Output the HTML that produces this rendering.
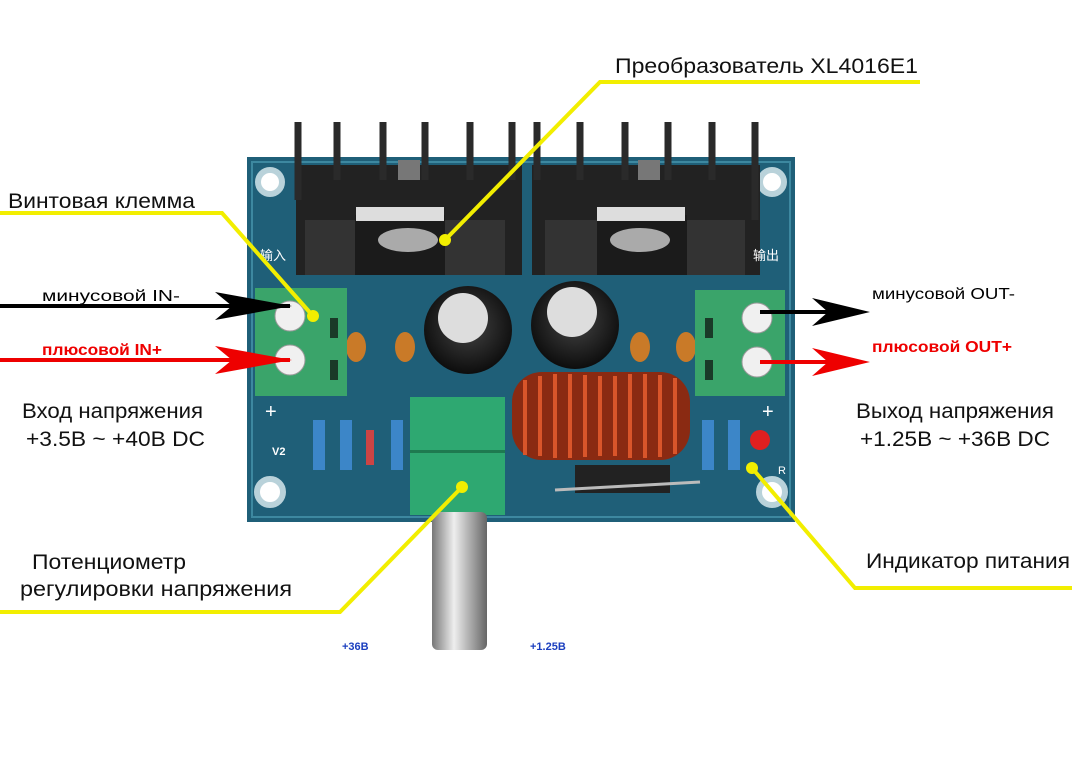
<!DOCTYPE html>
<html><head><meta charset="utf-8"><style>
html,body{margin:0;padding:0;background:#fff;width:1072px;height:766px;overflow:hidden}
svg{display:block}
text{font-family:"Liberation Sans",sans-serif}
</style></head><body>
<svg width="1072" height="766" viewBox="0 0 1072 766" xmlns="http://www.w3.org/2000/svg">
<defs>
<radialGradient id="cap" cx="50%" cy="45%" r="55%"><stop offset="0" stop-color="#444"/><stop offset="1" stop-color="#0d0d0d"/></radialGradient>
<linearGradient id="shaft" x1="0" x2="1"><stop offset="0" stop-color="#777"/><stop offset=".4" stop-color="#eee"/><stop offset="1" stop-color="#666"/></linearGradient>
</defs>
<rect x="247" y="157" width="548" height="365" fill="#1f5f78"/>
<rect x="252" y="162" width="538" height="355" fill="none" stroke="#3d88a0" stroke-width="2"/>
<g fill="#fff" stroke="#b9d2da" stroke-width="6">
<circle cx="270" cy="182" r="12"/><circle cx="772" cy="182" r="12"/>
<circle cx="270" cy="492" r="13"/><circle cx="772" cy="492" r="13"/>
</g>
<g fill="#222">
<rect x="296" y="165" width="226" height="110"/>
<rect x="532" y="165" width="228" height="110"/>
</g>
<g stroke="#2a2a2a" stroke-width="7">
<line x1="298" y1="122" x2="298" y2="200"/><line x1="337" y1="122" x2="337" y2="180"/><line x1="383" y1="122" x2="383" y2="180"/><line x1="425" y1="122" x2="425" y2="180"/><line x1="470" y1="122" x2="470" y2="180"/><line x1="512" y1="122" x2="512" y2="180"/>
<line x1="537" y1="122" x2="537" y2="180"/><line x1="580" y1="122" x2="580" y2="180"/><line x1="625" y1="122" x2="625" y2="180"/><line x1="668" y1="122" x2="668" y2="180"/><line x1="712" y1="122" x2="712" y2="180"/><line x1="755" y1="122" x2="755" y2="220"/>
</g>
<rect x="305" y="220" width="200" height="55" fill="#333"/>
<rect x="545" y="220" width="200" height="55" fill="#333"/>
<rect x="355" y="215" width="90" height="60" fill="#1b1b1b"/>
<rect x="597" y="215" width="90" height="60" fill="#1b1b1b"/>
<rect x="356" y="207" width="88" height="14" fill="#ddd"/>
<rect x="597" y="207" width="88" height="14" fill="#ddd"/>
<ellipse cx="408" cy="240" rx="30" ry="12" fill="#aaa"/>
<ellipse cx="640" cy="240" rx="30" ry="12" fill="#aaa"/>
<rect x="398" y="160" width="22" height="20" fill="#777"/>
<rect x="638" y="160" width="22" height="20" fill="#777"/>
<text x="260" y="260" font-size="13" fill="#fff" style="font-family:'Noto Sans CJK SC',sans-serif">输入</text>
<text x="753" y="260" font-size="13" fill="#fff" style="font-family:'Noto Sans CJK SC',sans-serif">输出</text>
<circle cx="468" cy="330" r="44" fill="url(#cap)"/>
<circle cx="575" cy="325" r="44" fill="url(#cap)"/>
<circle cx="463" cy="318" r="25" fill="#ddd"/>
<circle cx="572" cy="312" r="25" fill="#ddd"/>
<g fill="#c97a28">
<ellipse cx="356" cy="347" rx="10" ry="15"/><ellipse cx="405" cy="347" rx="10" ry="15"/>
<ellipse cx="640" cy="347" rx="10" ry="15"/><ellipse cx="686" cy="347" rx="10" ry="15"/>
</g>
<rect x="255" y="288" width="92" height="108" fill="#3aa46a"/>
<rect x="695" y="290" width="90" height="106" fill="#3aa46a"/>
<g fill="#f0f0f0" stroke="#999">
<circle cx="290" cy="316" r="15"/><circle cx="290" cy="360" r="15"/>
<circle cx="757" cy="318" r="15"/><circle cx="757" cy="362" r="15"/>
</g>
<rect x="330" y="318" width="8" height="20" fill="#1a3a28"/><rect x="330" y="360" width="8" height="20" fill="#1a3a28"/>
<rect x="705" y="318" width="8" height="20" fill="#1a3a28"/><rect x="705" y="360" width="8" height="20" fill="#1a3a28"/>
<text x="265" y="418" font-size="20" fill="#fff">+</text>
<text x="762" y="418" font-size="20" fill="#fff">+</text>
<text x="272" y="455" font-size="11" fill="#fff" font-weight="bold">V2</text>
<rect x="512" y="372" width="178" height="88" rx="30" fill="#8a2a12"/>
<g stroke="#d9552a" stroke-width="4" fill="none">
<path d="M525 380v75M540 376v80M555 374v84M570 374v84M585 375v82M600 376v80M615 376v80M630 374v84M645 374v84M660 375v82M675 378v76"/>
</g>
<rect x="575" y="465" width="95" height="28" fill="#222"/>
<line x1="555" y1="490" x2="700" y2="482" stroke="#bbb" stroke-width="3"/>
<g fill="#3c86c8">
<rect x="313" y="420" width="12" height="50"/><rect x="340" y="420" width="12" height="50"/><rect x="391" y="420" width="12" height="50"/>
<rect x="702" y="420" width="12" height="50"/><rect x="728" y="420" width="12" height="50"/>
</g>
<rect x="366" y="430" width="8" height="35" fill="#c44"/>
<circle cx="760" cy="440" r="10" fill="#e02020"/>
<text x="778" y="474" font-size="11" fill="#fff">R</text>
<rect x="410" y="397" width="95" height="118" fill="#2ea871"/>
<rect x="410" y="450" width="95" height="3" fill="#1e7a50"/>
<rect x="432" y="512" width="55" height="138" rx="6" fill="url(#shaft)"/>
<text x="342" y="650" font-size="11" fill="#1b3fbf" font-weight="bold">+36B</text>
<text x="530" y="650" font-size="11" fill="#1b3fbf" font-weight="bold">+1.25B</text>
<g stroke-width="4">
<line x1="0" y1="306" x2="220" y2="306" stroke="#000"/>
<line x1="0" y1="360" x2="220" y2="360" stroke="#e00"/>
<line x1="760" y1="312" x2="850" y2="312" stroke="#000"/>
<line x1="760" y1="362" x2="850" y2="362" stroke="#e00"/>
</g>
<path d="M292 306 L215 292 L232 306 L215 320Z" fill="#000"/>
<path d="M292 360 L215 346 L232 360 L215 374Z" fill="#e00"/>
<path d="M870 312 L812 298 L828 312 L812 326Z" fill="#000"/>
<path d="M870 362 L812 348 L828 362 L812 376Z" fill="#e00"/>
<line x1="220" y1="306" x2="290" y2="306" stroke="#000" stroke-width="4"/>
<line x1="220" y1="360" x2="290" y2="360" stroke="#e00" stroke-width="4"/>
<g stroke="#f2ee00" stroke-width="4" fill="none">
<polyline points="0,213 222,213 313,316"/>
<polyline points="920,82 600,82 445,240"/>
<polyline points="1072,588 855,588 752,468"/>
<polyline points="0,612 340,612 462,487"/>
</g>
<g fill="#f2ee00"><circle cx="313" cy="316" r="6"/><circle cx="445" cy="240" r="6"/><circle cx="752" cy="468" r="6"/><circle cx="462" cy="487" r="6"/></g>
<g font-size="21" fill="#111">
<text x="615" y="73" textLength="303" lengthAdjust="spacingAndGlyphs">Преобразователь XL4016E1</text>
<text x="8" y="208" textLength="187" lengthAdjust="spacingAndGlyphs">Винтовая клемма</text>
<text x="22" y="418" textLength="181" lengthAdjust="spacingAndGlyphs">Вход напряжения</text>
<text x="26" y="446" textLength="179" lengthAdjust="spacingAndGlyphs">+3.5B ~ +40B DC</text>
<text x="856" y="418" textLength="198" lengthAdjust="spacingAndGlyphs">Выход напряжения</text>
<text x="860" y="446" textLength="190" lengthAdjust="spacingAndGlyphs">+1.25B ~ +36B DC</text>
<text x="866" y="568" textLength="204" lengthAdjust="spacingAndGlyphs">Индикатор питания</text>
<text x="32" y="569" textLength="154" lengthAdjust="spacingAndGlyphs">Потенциометр</text>
<text x="20" y="596" textLength="272" lengthAdjust="spacingAndGlyphs">регулировки напряжения</text>
</g>
<text x="42" y="301" font-size="16" fill="#000" textLength="138" lengthAdjust="spacingAndGlyphs">минусовой IN-</text>
<text x="42" y="355" font-size="16" fill="#e00" font-weight="bold" textLength="120" lengthAdjust="spacingAndGlyphs">плюсовой IN+</text>
<text x="872" y="299" font-size="16" fill="#000" textLength="143" lengthAdjust="spacingAndGlyphs">минусовой OUT-</text>
<text x="872" y="352" font-size="16" fill="#e00" font-weight="bold" textLength="140" lengthAdjust="spacingAndGlyphs">плюсовой OUT+</text>
</svg>
</body></html>
